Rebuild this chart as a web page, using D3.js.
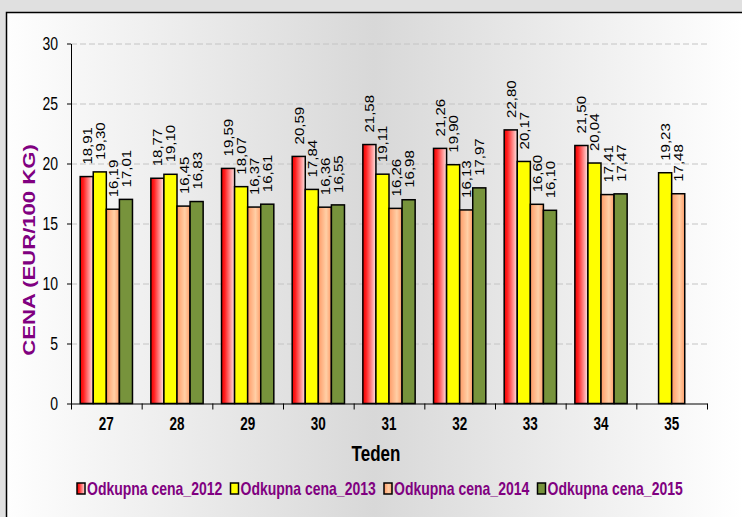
<!DOCTYPE html>
<html>
<head>
<meta charset="utf-8">
<script src="https://cdn.jsdelivr.net/npm/d3@7"></script>
<style>
  body { margin: 0; background: #e0e0e0; }
  text { font-family: Arial, "Liberation Sans", sans-serif; }
</style>
</head>
<body>
<div id="chart"></div>
<script>
// data
const weeks = ["27", "28", "29", "30", "31", "32", "33", "34", "35"];
const seriesNames = ["Odkupna cena_2012", "Odkupna cena_2013", "Odkupna cena_2014", "Odkupna cena_2015"];
const price2012 = [18.91, 18.77, 19.59, 20.59, 21.58, 21.26, 22.80, 21.50, null];
const price2013 = [19.30, 19.10, 18.07, 17.84, 19.11, 19.90, 20.17, 20.04, 19.23];
const price2014 = [16.19, 16.45, 16.37, 16.36, 16.26, 16.13, 16.60, 17.41, 17.48];
const price2015 = [17.01, 16.83, 16.61, 16.55, 16.98, 17.97, 16.10, 17.47, null];
const yTicks = [0, 5, 10, 15, 20, 25, 30];

const allSeries = [price2012, price2013, price2014, price2015];
const fills = ["url(#gRed)", "#ffff00", "url(#gOrange)", "#77933c"];

const width = 742;
const height = 517;
const margin = {top: 43.5, bottom: 113.5, left: 71, right: 35};
const sy = 1.3; // text in the picture is stretched vertically

const svg = d3.select('#chart')
    .append('svg')
    .attr('width', width)
    .attr('height', height);

const defs = svg.append('defs');

const bg = defs.append('linearGradient')
    .attr('id', 'bg')
    .attr('gradientUnits', 'userSpaceOnUse')
    .attr('x1', 6).attr('x2', 742).attr('y1', 0).attr('y2', 0);
bg.append('stop').attr('offset', '0%').attr('stop-color', '#fefefe');
bg.append('stop').attr('offset', '50%').attr('stop-color', '#d8d8d8');
bg.append('stop').attr('offset', '100%').attr('stop-color', '#ffffff');

const gRed = defs.append('linearGradient').attr('id', 'gRed');
gRed.append('stop').attr('offset', '0%').attr('stop-color', '#f00000');
gRed.append('stop').attr('offset', '25%').attr('stop-color', '#ff2020');
gRed.append('stop').attr('offset', '100%').attr('stop-color', '#ffe6e6');

const gOrange = defs.append('linearGradient').attr('id', 'gOrange');
gOrange.append('stop').attr('offset', '0%').attr('stop-color', '#ff9a66');
gOrange.append('stop').attr('offset', '60%').attr('stop-color', '#ffcfa6');
gOrange.append('stop').attr('offset', '100%').attr('stop-color', '#ff9e6a');

// outer background and frame
svg.append('rect').attr('width', width).attr('height', height).attr('fill', '#e0e0e0');
svg.append('rect')
    .attr('x', 6.5).attr('y', 12.5)
    .attr('width', width + 20).attr('height', height + 20)
    .attr('fill', 'url(#bg)')
    .attr('stroke', '#000')
    .attr('stroke-width', 1.5);

// scales
const x0 = d3.scaleBand()
    .domain(weeks)
    .range([margin.left, width - margin.right])
    .paddingInner(0.26)
    .paddingOuter(0.13);

const x1 = d3.scaleBand()
    .domain(d3.range(seriesNames.length))
    .range([0, x0.bandwidth()]);

const xb = d3.scaleLinear()
    .domain([0, weeks.length])
    .range([margin.left, width - margin.right]);

const y = d3.scaleLinear()
    .domain([0, 30])
    .range([height - margin.bottom, margin.top]);

// grid
svg.append('g')
    .attr('transform', `translate(${margin.left}, 0)`)
    .call(d3.axisLeft(y).tickValues(yTicks.slice(1)).tickSize(-(width - margin.right - margin.left)).tickFormat(''))
    .call(g => g.select('.domain').remove())
    .call(g => g.selectAll('line').attr('stroke', '#c4c4c4').attr('stroke-dasharray', '6,3'));

// bars
const groups = svg.append('g')
    .selectAll('g')
    .data(weeks)
    .join('g')
    .attr('transform', d => `translate(${x0(d)}, 0)`);

const fmt = v => d3.format('.2f')(v).replace('.', ',');

groups.each(function(w, i) {
    const vals = allSeries.map((s, k) => ({k: k, v: s[i]})).filter(d => d.v != null);
    const g = d3.select(this);
    g.selectAll('rect')
        .data(vals)
        .join('rect')
        .attr('x', d => x1(d.k))
        .attr('y', d => y(d.v))
        .attr('width', x1.bandwidth())
        .attr('height', d => y(0) - y(d.v))
        .attr('fill', d => fills[d.k])
        .attr('stroke', '#000')
        .attr('stroke-width', 1.5);
    g.selectAll('text')
        .data(vals)
        .join('text')
        .attr('transform', d => `translate(${x1(d.k) + x1.bandwidth() / 2 + 5}, ${y(d.v) - 12}) scale(1, 1.2) rotate(-90)`)
        .attr('font-size', '12.5px')
        .attr('fill', '#000')
        .text(d => fmt(d.v));
});

// y axis
svg.append('g')
    .attr('transform', `translate(${margin.left}, 0)`)
    .call(d3.axisLeft(y).tickValues(yTicks).tickSize(4).tickSizeOuter(0).tickPadding(9))
    .call(g => g.selectAll('text')
        .attr('font-size', '14px')
        .attr('font-family', 'Arial, "Liberation Sans", sans-serif')
        .attr('transform', `scale(1, ${sy})`));

// x axis: boundary ticks and labels
svg.append('g')
    .attr('transform', `translate(0, ${y(0)})`)
    .call(d3.axisBottom(xb).tickValues(d3.range(weeks.length + 1)).tickSize(6).tickSizeOuter(0).tickFormat(''));

svg.append('g')
    .attr('transform', `translate(0, ${y(0)})`)
    .call(d3.axisBottom(x0).tickSize(0))
    .call(g => g.select('.domain').remove())
    .call(g => g.selectAll('text')
        .attr('y', 26.5 / sy)
        .attr('dy', 0)
        .attr('font-size', '13.5px')
        .attr('font-weight', 'bold')
        .attr('font-family', 'Arial, "Liberation Sans", sans-serif')
        .attr('transform', `scale(1, ${sy})`));

// axis titles
svg.append('text')
    .attr('transform', `translate(376, 461) scale(1, ${sy})`)
    .attr('text-anchor', 'middle')
    .attr('font-size', '17px')
    .attr('font-weight', 'bold')
    .text('Teden');

svg.append('text')
    .attr('transform', `translate(35, 250) scale(1, ${sy}) rotate(-90)`)
    .attr('text-anchor', 'middle')
    .attr('font-size', '17px')
    .attr('font-weight', 'bold')
    .attr('fill', '#800080')
    .text('CENA (EUR/100 KG)');

// legend
const legend = svg.append('g')
    .selectAll('g')
    .data(seriesNames)
    .join('g')
    .attr('transform', (d, i) => `translate(${77 + i * 153.5}, 0)`);

legend.append('rect')
    .attr('x', 0).attr('y', 483)
    .attr('width', 8).attr('height', 11)
    .attr('fill', (d, i) => fills[i])
    .attr('stroke', '#000')
    .attr('stroke-width', 1.5);

legend.append('text')
    .attr('transform', `translate(10, 495) scale(1, ${sy})`)
    .attr('font-size', '14px')
    .attr('font-weight', 'bold')
    .attr('fill', '#800080')
    .text(d => d);
</script>
</body>
</html>
